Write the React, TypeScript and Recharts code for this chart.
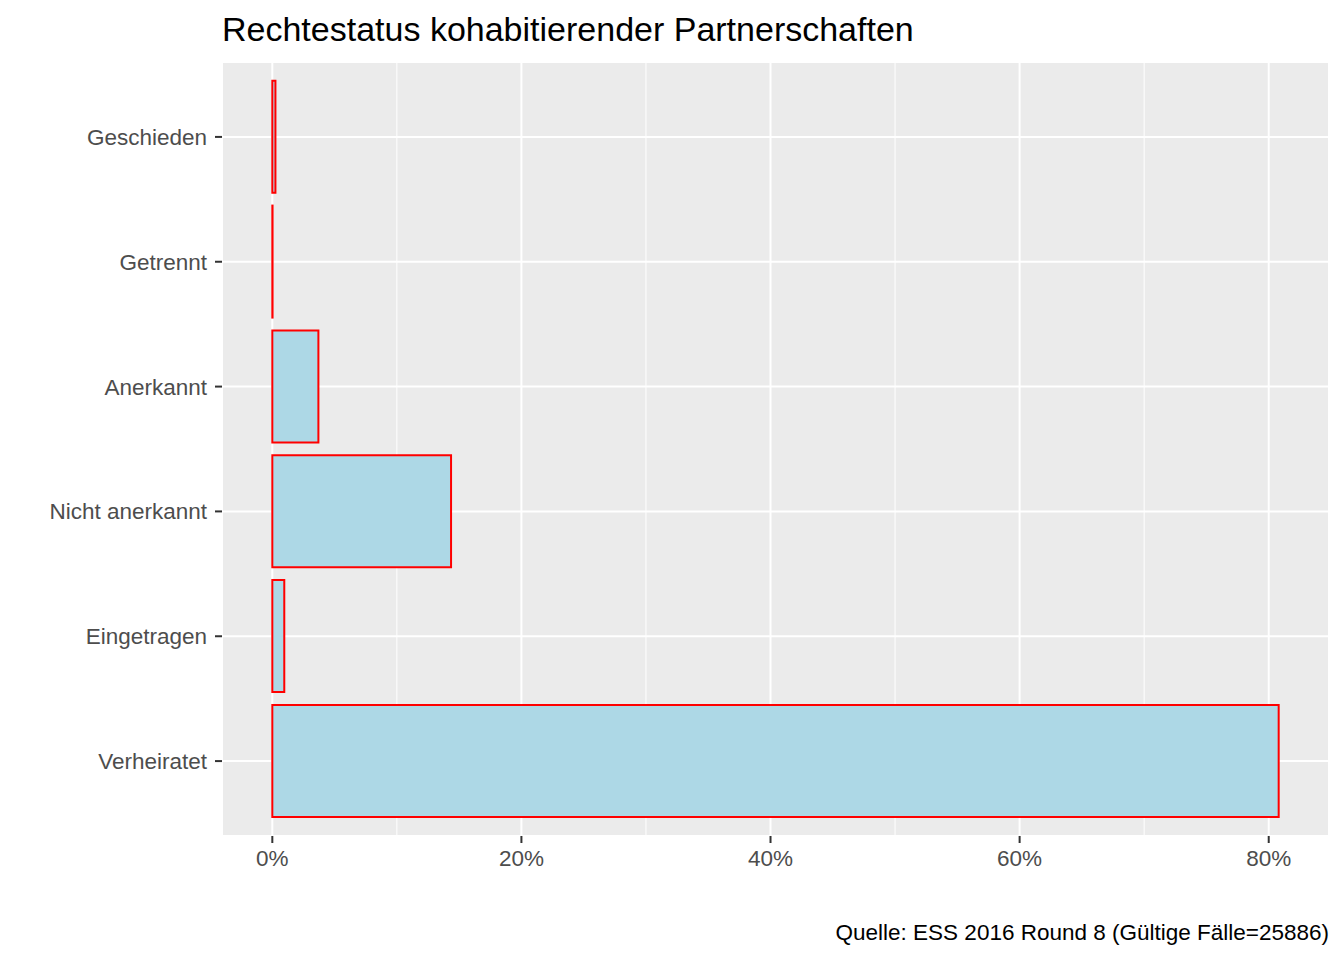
import React from "react";
import {
  BarChart,
  Bar,
  XAxis,
  YAxis,
  CartesianGrid,
} from "recharts";

// Kategorien von oben nach unten
const categories = [
  "Geschieden",
  "Getrennt",
  "Anerkannt",
  "Nicht anerkannt",
  "Eingetragen",
  "Verheiratet",
];
const shares = [0.25, 0.02, 3.7, 14.35, 0.96, 80.8];

const majorTicks = [0, 20, 40, 60, 80];
const minorTicks = [10, 30, 50, 70];

const data = categories.map((name, i) => ({ name, value: shares[i] }));

const FONT = '"Liberation Sans", Arial, sans-serif';

const App: React.FC = () => {
  // ggplot-artige Expansion von 5% auf beiden Seiten
  const max = Math.max(...shares);
  const domain: [number, number] = [-0.05 * max, 1.05 * max];

  return (
    <div
      style={{
        position: "absolute",
        top: 0,
        left: 0,
        width: 1344,
        height: 960,
        background: "#fff",
        fontFamily: FONT,
      }}
    >
      <div
        style={{
          position: "absolute",
          left: 222,
          top: 12,
          fontSize: 34,
          lineHeight: 1,
          color: "#000",
          whiteSpace: "nowrap",
        }}
      >
        Rechtestatus kohabitierender Partnerschaften
      </div>
      <BarChart
        width={1344}
        height={960}
        data={data}
        layout="vertical"
        barCategoryGap="5%"
        margin={{ top: 62, right: 15, left: 0, bottom: 64 }}
        style={{ position: "absolute", top: 0, left: 0 }}
      >
        <CartesianGrid fill="#EBEBEB" stroke="#ffffff" strokeWidth={2} />
        <CartesianGrid
          xAxisId="minor"
          horizontal={false}
          stroke="#ffffff"
          strokeWidth={1}
        />
        <XAxis
          type="number"
          domain={domain}
          allowDataOverflow
          ticks={majorTicks}
          tickFormatter={(v: number) => `${v}%`}
          axisLine={false}
          tickLine={{ stroke: "#333333", strokeWidth: 2 }}
          tickSize={7}
          tickMargin={7}
          height={60}
          tick={{ fill: "#4D4D4D", fontSize: 22.5, fontFamily: FONT }}
        />
        <XAxis
          xAxisId="minor"
          type="number"
          domain={domain}
          allowDataOverflow
          ticks={minorTicks}
          hide
        />
        <YAxis
          type="category"
          dataKey="name"
          width={222}
          padding={{ top: 12.5, bottom: 12.5 }}
          axisLine={false}
          tickLine={{ stroke: "#333333", strokeWidth: 2 }}
          tickSize={7}
          tickMargin={8}
          interval={0}
          tick={{ fill: "#4D4D4D", fontSize: 22.5, fontFamily: FONT }}
        />
        <Bar
          dataKey="value"
          fill="#ADD8E6"
          stroke="#FF0000"
          strokeWidth={2}
          isAnimationActive={false}
        />
      </BarChart>
      <div
        style={{
          position: "absolute",
          right: 1344 - 1329,
          top: 922,
          fontSize: 22.5,
          lineHeight: 1,
          color: "#000",
          whiteSpace: "nowrap",
        }}
      >
        Quelle: ESS 2016 Round 8 (Gültige Fälle=25886)
      </div>
    </div>
  );
};

export default App;
